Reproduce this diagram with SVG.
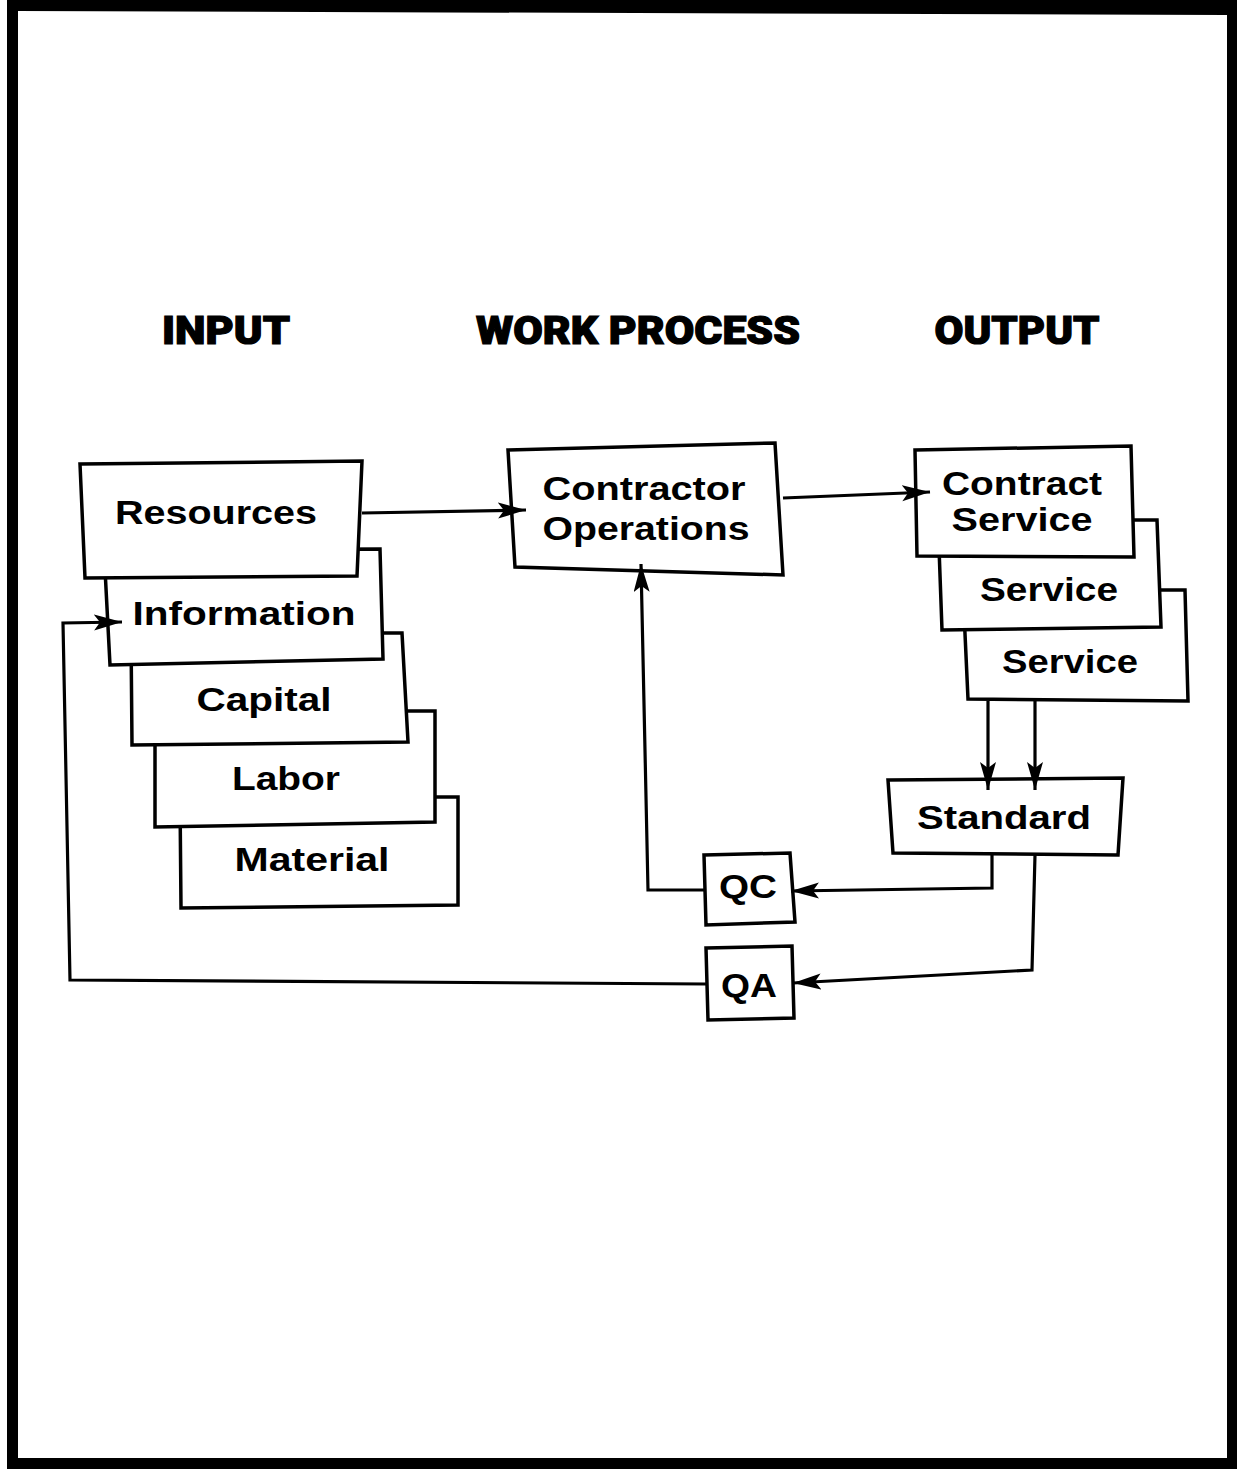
<svg xmlns="http://www.w3.org/2000/svg" width="1241" height="1469" viewBox="0 0 1241 1469">
<style>
.box{fill:#fff;stroke:#000;stroke-width:3.5;stroke-linejoin:miter}
.t{font-family:"Liberation Sans",Arial,sans-serif;font-weight:bold;font-size:34px;fill:#000;text-anchor:middle}
.h{font-family:Roboto,"Liberation Sans",sans-serif;font-weight:900;font-size:39px;fill:#000;text-anchor:middle;stroke:#000;stroke-width:1.2}
.c{fill:none;stroke:#000;stroke-width:3.2;stroke-linejoin:miter}
</style>
<defs>
<marker id="ah" markerUnits="userSpaceOnUse" markerWidth="32" markerHeight="18" refX="28" refY="8" orient="auto">
<path d="M0,0 L28,8 L0,16 L6,8 z" fill="#000"/>
</marker>
</defs>
<rect width="1241" height="1469" fill="#fff"/>
<path id="frame" d="M7,0 L1237,0 L1237,1469 L7,1469 Z M18,11 L18,1458 L1227,1458 L1227,15 Z" fill="#000" fill-rule="evenodd"/>

<g id="headers">
<text class="h" x="226" y="344" textLength="128" lengthAdjust="spacingAndGlyphs">INPUT</text>
<text class="h" x="638" y="344" textLength="324" lengthAdjust="spacingAndGlyphs">WORK PROCESS</text>
<text class="h" x="1017" y="344" textLength="165" lengthAdjust="spacingAndGlyphs">OUTPUT</text>
</g>

<g id="material"><polygon class="box" points="180,797 458,797 458,905 181,908"/><text class="t" x="312" y="871" textLength="155" lengthAdjust="spacingAndGlyphs">Material</text></g>
<g id="labor"><polygon class="box" points="155,711 435,711 435,822 155,827"/><text class="t" x="286" y="790" textLength="108" lengthAdjust="spacingAndGlyphs">Labor</text></g>
<g id="capital"><polygon class="box" points="131,633 402,633 408,742 132,745"/><text class="t" x="264" y="711" textLength="135" lengthAdjust="spacingAndGlyphs">Capital</text></g>
<g id="information"><polygon class="box" points="104,550 380,549 383,659 110,665"/><text class="t" x="244" y="625" textLength="223" lengthAdjust="spacingAndGlyphs">Information</text></g>
<g id="resources"><polygon class="box" points="80,464 362,461 357,576 85,578"/><text class="t" x="216" y="524" textLength="202" lengthAdjust="spacingAndGlyphs">Resources</text></g>

<g id="contractor"><polygon class="box" points="508,450 775,443 783,575 515,567"/><text class="t" x="644" y="500" textLength="203" lengthAdjust="spacingAndGlyphs">Contractor</text><text class="t" x="646" y="540" textLength="207" lengthAdjust="spacingAndGlyphs">Operations</text></g>

<g id="service2"><polygon class="box" points="963,590 1185,590 1188,701 968,699"/><text class="t" x="1070" y="673" textLength="136" lengthAdjust="spacingAndGlyphs">Service</text></g>
<g id="service1"><polygon class="box" points="938,520 1157,520 1161,627 942,630"/><text class="t" x="1049" y="601" textLength="138" lengthAdjust="spacingAndGlyphs">Service</text></g>
<g id="contract-service"><polygon class="box" points="915,450 1131,446 1134,557 917,556"/><text class="t" x="1022" y="495" textLength="160" lengthAdjust="spacingAndGlyphs">Contract</text><text class="t" x="1022" y="531" textLength="141" lengthAdjust="spacingAndGlyphs">Service</text></g>

<g id="standard"><polygon class="box" points="888,780 1123,778 1118,855 893,853"/><text class="t" x="1004" y="829" textLength="174" lengthAdjust="spacingAndGlyphs">Standard</text></g>
<g id="qc"><polygon class="box" points="704,855 790,853 795,922 706,925"/><text class="t" x="748" y="898" textLength="58" lengthAdjust="spacingAndGlyphs">QC</text></g>
<g id="qa"><polygon class="box" points="706,948 792,946 794,1018 708,1020"/><text class="t" x="749" y="997" textLength="56" lengthAdjust="spacingAndGlyphs">QA</text></g>

<g id="connectors">
<path class="c" d="M362,513 L526,510" marker-end="url(#ah)"/>
<path class="c" d="M783,498 L930,492" marker-end="url(#ah)"/>
<path class="c" d="M988,701 L988,790" marker-end="url(#ah)"/>
<path class="c" d="M1035,701 L1035,790" marker-end="url(#ah)"/>
<path class="c" d="M992,855 L992,888 L791,891" marker-end="url(#ah)"/>
<path class="c" d="M1035,855 L1032,970 L793,983" marker-end="url(#ah)"/>
<path class="c" d="M704,890 L648,890 L641,564" marker-end="url(#ah)"/>
<path class="c" d="M706,984 L70,980 L63,623 L122,622" marker-end="url(#ah)"/>
</g>
</svg>
